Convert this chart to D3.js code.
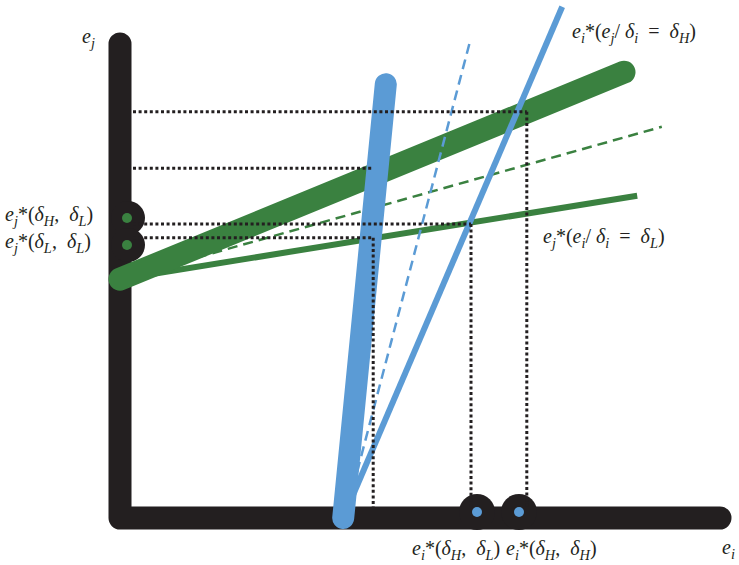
<!DOCTYPE html>
<html>
<head>
<meta charset="utf-8">
<script src="https://cdn.jsdelivr.net/npm/d3@7"></script>
<style>
  body { margin: 0; background: #fff; }
  svg text { font-family: "Liberation Serif", "DejaVu Serif", serif; fill: #231f20; white-space: pre; }
</style>
</head>
<body>
<svg id="chart"></svg>
<script>
// reaction curves (in abstract effort units)
const curveIds = ["iLow", "iHigh", "iDashed", "jHigh", "jLow", "jDashed"];
const curveStart = [[3.72, 0], [3.72, 0], [3.75, 0], [0, 3.98], [0, 3.98], [0, 3.98]];
const curveEnd = [[4.43, 7.23], [7.37, 8.52], [5.83, 7.93], [8.4, 7.43], [8.62, 5.37], [9.03, 6.52]];

// dotted guides: level on e_j, where they stop on e_i, whether they drop to the axis
const guideLevels = [6.77, 5.83, 4.9, 4.67];
const guideEnds = [6.78, 4.22, 5.85, 4.22];
const guideDrops = [true, false, true, true];

// equilibrium markers
const markersJ = [5.0, 4.55];
const markersI = [5.95, 6.65];

const axisMax = [10, 7.9];

const width = 739, height = 565;
const svg = d3.select("#chart").attr("width", width).attr("height", height);

const x = d3.scaleLinear().domain([0, 10]).range([120, 720]);
const y = d3.scaleLinear().domain([0, 8]).range([518, 38]);

const blue = "#5b9bd5", green = "#3a8140", ink = "#231f20";
const styles = {
  iLow: { color: blue, w: 22, dash: null, cap: "round" },
  iHigh: { color: blue, w: 6, dash: null, cap: "butt" },
  iDashed: { color: blue, w: 2.5, dash: "10,6", cap: "butt" },
  jHigh: { color: green, w: 23, dash: null, cap: "round" },
  jLow: { color: green, w: 6, dash: null, cap: "butt" },
  jDashed: { color: green, w: 2.5, dash: "10,6", cap: "butt" }
};

// axes
svg.append("path")
  .attr("d", d3.line()([[x(0), y(axisMax[1])], [x(0), y(0)], [x(axisMax[0]), y(0)]]))
  .attr("fill", "none")
  .attr("stroke", ink)
  .attr("stroke-width", 23)
  .attr("stroke-linejoin", "round")
  .attr("stroke-linecap", "round");

// bumps on the axes
svg.selectAll(".bumpJ").data(markersJ).enter().append("circle")
  .attr("cx", x(0) + 8).attr("cy", d => y(d)).attr("r", 17).attr("fill", ink);
svg.selectAll(".bumpI").data(markersI).enter().append("circle")
  .attr("cx", d => x(d)).attr("cy", y(0) - 6).attr("r", 18).attr("fill", ink);

// green curves first
const curves = curveIds.map((id, i) => ({ id, a: curveStart[i], b: curveEnd[i] }));
const drawCurves = list => {
  svg.selectAll(null).data(list).enter().append("line")
    .attr("x1", d => x(d.a[0])).attr("y1", d => y(d.a[1]))
    .attr("x2", d => x(d.b[0])).attr("y2", d => y(d.b[1]))
    .attr("stroke", d => styles[d.id].color)
    .attr("stroke-width", d => styles[d.id].w)
    .attr("stroke-dasharray", d => styles[d.id].dash)
    .attr("stroke-linecap", d => styles[d.id].cap);
};
drawCurves(curves.filter(d => d.id[0] === "j").reverse());
drawCurves(curves.filter(d => d.id[0] === "i").reverse());

// dotted guides
const guides = svg.append("g")
  .attr("stroke", ink)
  .attr("stroke-width", 3)
  .attr("stroke-dasharray", "3,2.6")
  .attr("fill", "none");
guideLevels.forEach((lv, i) => {
  guides.append("line")
    .attr("x1", x(0) + 13).attr("y1", y(lv))
    .attr("x2", x(guideEnds[i])).attr("y2", y(lv));
  if (guideDrops[i]) {
    guides.append("line")
      .attr("x1", x(guideEnds[i])).attr("y1", y(lv))
      .attr("x2", x(guideEnds[i])).attr("y2", y(0) - 11);
  }
});

// marker dots
svg.selectAll(".dotJ").data(markersJ).enter().append("circle")
  .attr("cx", x(0) + 7).attr("cy", d => y(d)).attr("r", 5).attr("fill", green);
svg.selectAll(".dotI").data(markersI).enter().append("circle")
  .attr("cx", d => x(d)).attr("cy", y(0) - 6).attr("r", 5).attr("fill", blue);

// math-ish labels: [text, italic?, sub?]
function label(px, py, parts, size = 20) {
  const t = svg.append("text").attr("x", px).attr("y", py).style("font-size", size + "px");
  let shifted = false;
  parts.forEach(p => {
    const s = t.append("tspan").text(p[0])
      .style("font-style", p[1] ? "italic" : "normal");
    if (p[2] && !shifted) { s.attr("dy", 5).style("font-size", (size * 0.72) + "px"); shifted = true; }
    else if (p[2]) { s.style("font-size", (size * 0.72) + "px"); }
    else if (shifted) { s.attr("dy", -5); shifted = false; }
  });
}
const E = (s) => [["e", 1], [s, 1, 1]];
const D = (s) => [["δ", 1], [s, 1, 1]];

label(82, 43, E("j"));
label(722, 554, E("i"));
label(5, 221, [...E("j"), ["*(", 0], ...D("H"), [",  ", 0], ...D("L"), [")", 0]]);
label(5, 248, [...E("j"), ["*(", 0], ...D("L"), [",  ", 0], ...D("L"), [")", 0]]);
label(412, 555, [...E("i"), ["*(", 0], ...D("H"), [",  ", 0], ...D("L"), [")", 0]]);
label(506, 555, [...E("i"), ["*(", 0], ...D("H"), [",  ", 0], ...D("H"), [")", 0]]);
label(572, 38, [...E("i"), ["*(", 0], ...E("j"), ["/ ", 0], ...D("i"), ["  =  ", 0], ...D("H"), [")", 0]]);
label(543, 243, [...E("j"), ["*(", 0], ...E("i"), ["/ ", 0], ...D("i"), ["  =  ", 0], ...D("L"), [")", 0]]);
</script>
</body>
</html>
